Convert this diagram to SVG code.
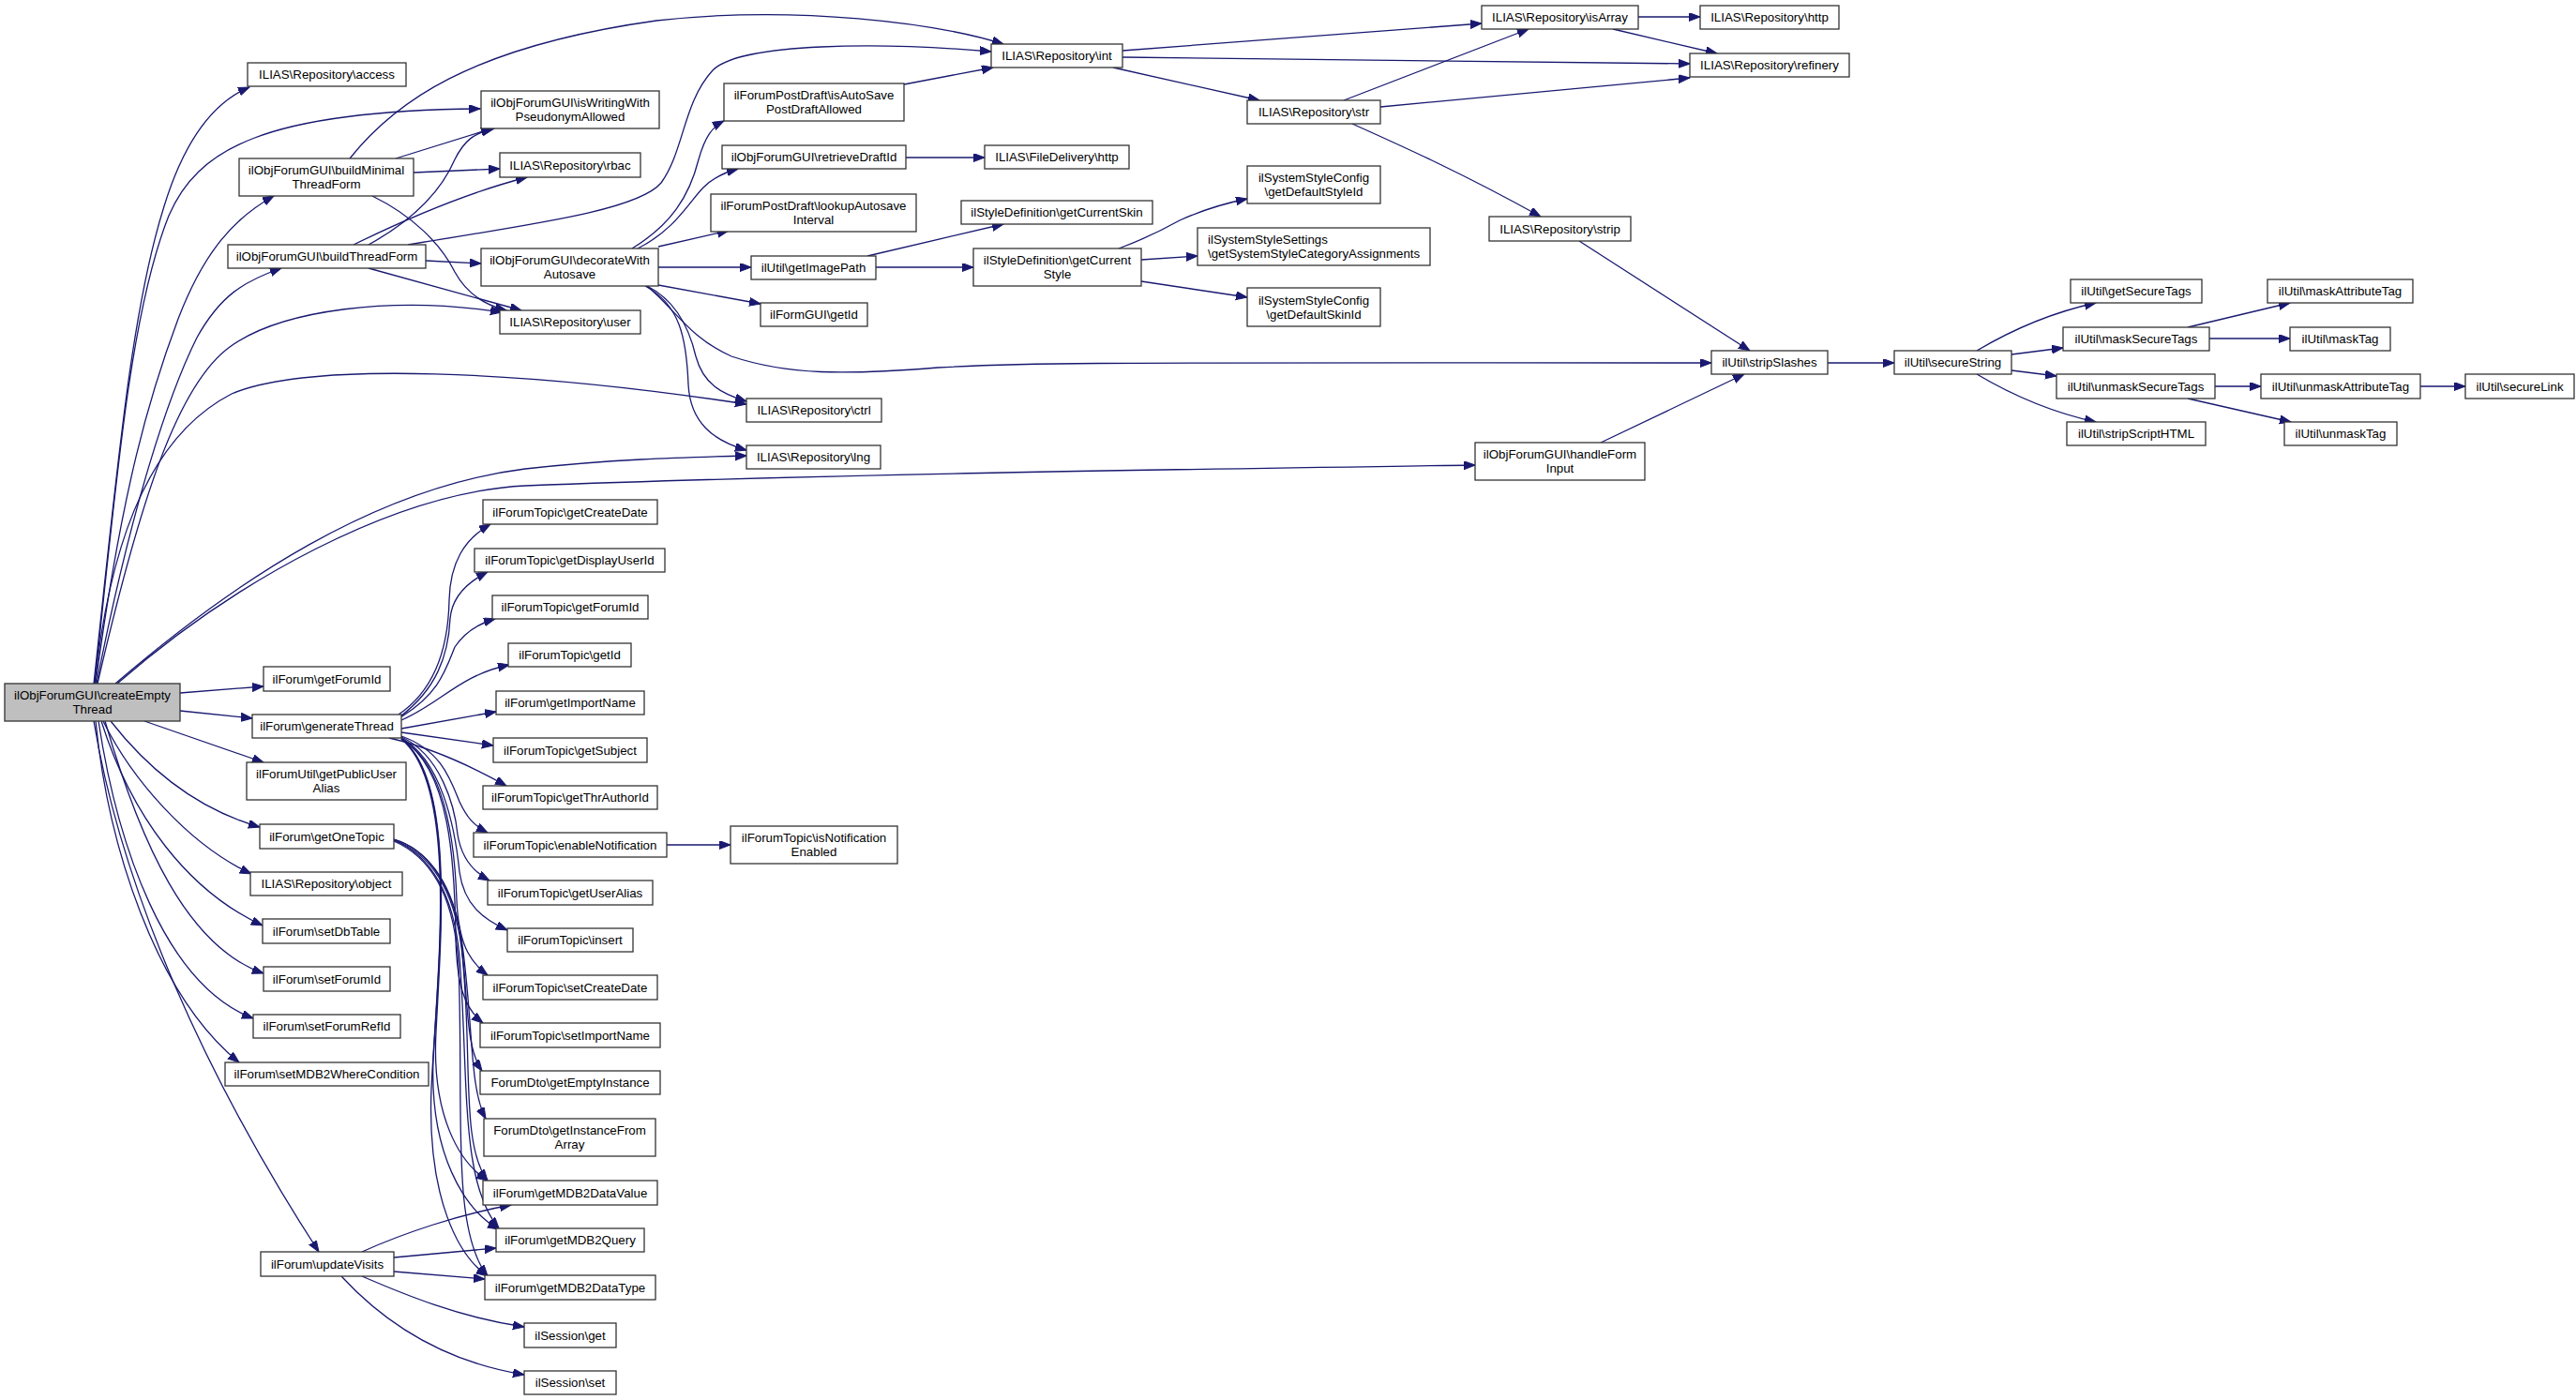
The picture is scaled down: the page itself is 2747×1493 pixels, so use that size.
<svg xmlns="http://www.w3.org/2000/svg" width="2747" height="1493" viewBox="0 0 2747 1493">
<style>
.n rect{fill:#fff;stroke:#333;stroke-width:1.3}
.n.root rect{fill:#bfbfbf}
.n text{font-family:"Liberation Sans",Arial,Helvetica,sans-serif;font-size:13.3px;fill:#000;text-anchor:middle}
.n text.l{text-anchor:start}
.e path{fill:none;stroke:#191970;stroke-width:1.3;marker-end:url(#a)}
</style>
<defs>
<marker id="a" markerWidth="13" markerHeight="10" refX="12" refY="4.5" orient="auto" markerUnits="userSpaceOnUse">
<path d="M0,0 L12,4.5 L0,9 z" fill="#191970" stroke="#191970" stroke-width="1"/>
</marker>
</defs>
<rect width="2747" height="1493" fill="#fff"/>
<g class="e" id="edges">
<!-- createEmptyThread -->
<path d="M100,729 C125,500 140,330 175,220 C195,155 225,110 266,93"/>
<path d="M101,729 C125,500 140,330 180,230 C210,160 280,118 512,116"/>
<path d="M102,729 C130,520 160,420 190,340 C215,275 245,235 292,209"/>
<path d="M103,729 C140,540 180,420 210,360 C235,315 260,300 300,286"/>
<path d="M104,729 C150,530 190,410 245,370 C300,330 420,315 535,333"/>
<path d="M101,729 C115,600 150,470 247,420 C330,385 560,395 796,431"/>
<path d="M123,729 C250,620 400,520 560,500 C650,490 720,488 796,486"/>
<path d="M125,729 C250,620 420,525 560,518 C900,505 1300,500 1573,496"/>
<path d="M192,739 L281,732"/>
<path d="M192,758 L269,766"/>
<path d="M154,769 L281,813"/>
<path d="M118,769 C150,810 200,860 277,882"/>
<path d="M110,769 C140,830 200,900 268,932"/>
<path d="M108,769 C140,870 200,950 280,987"/>
<path d="M112,769 C150,900 200,1010 281,1038"/>
<path d="M105,769 C125,900 175,1050 270,1086"/>
<path d="M102,769 C115,900 165,1060 255,1133"/>
<path d="M100,769 C130,950 220,1150 340,1335"/>
<!-- buildMinimalThreadForm -->
<path d="M373,169 C420,110 500,50 700,22 C850,5 1000,25 1070,47"/>
<path d="M422,169 L525,137"/>
<path d="M441,184 L533,180"/>
<path d="M397,209 C440,230 470,260 485,290 C497,312 515,325 540,331"/>
<!-- buildThreadForm -->
<path d="M393,261 C440,235 470,205 485,170 C495,150 505,142 527,137"/>
<path d="M377,261 C430,235 500,205 562,189"/>
<path d="M454,278 L513,281"/>
<path d="M393,286 L556,331"/>
<path d="M435,261 C560,240 680,225 705,195 C730,160 728,110 760,75 C790,45 940,45 1057,55"/>
<!-- decorateWithAutosave -->
<path d="M674,265 C715,240 735,210 745,170 C752,145 760,135 772,129"/>
<path d="M680,265 C720,245 735,215 750,200 C760,190 772,184 787,180"/>
<path d="M702,263 L777,246"/>
<path d="M702,285 L801,285"/>
<path d="M702,304 L811,324"/>
<path d="M690,305 C720,320 735,350 742,380 C750,410 770,420 796,428"/>
<path d="M688,305 C725,325 732,360 734,410 C736,450 760,470 796,480"/>
<path d="M690,305 C720,330 735,360 780,380 C840,400 900,400 1000,392 C1100,386 1200,387 1825,387"/>
<!-- generateThread -->
<path d="M425,762 C465,735 478,690 479,640 C480,600 495,575 523,559"/>
<path d="M427,764 C465,735 478,700 480,660 C482,635 500,620 520,610"/>
<path d="M427,765 C468,740 475,715 485,690 C495,675 510,665 528,660"/>
<path d="M428,768 C470,750 490,720 543,709"/>
<path d="M428,777 L529,759"/>
<path d="M428,781 L526,795"/>
<path d="M415,787 C450,795 490,810 540,838"/>
<path d="M428,785 C470,800 480,830 490,855 C498,872 505,880 520,888"/>
<path d="M428,786 C470,805 485,860 488,890 C492,915 505,930 522,939"/>
<path d="M428,787 C470,810 485,880 490,930 C495,965 515,980 541,992"/>
<path d="M428,788 C475,815 485,900 487,960 C489,1005 500,1025 520,1040"/>
<path d="M428,788 C480,820 485,920 486,1000 C487,1050 495,1075 515,1091"/>
<path d="M428,788 C485,830 470,1000 465,1100 C460,1190 490,1240 520,1259"/>
<path d="M428,788 C488,835 468,1020 462,1130 C458,1230 495,1290 532,1311"/>
<path d="M428,788 C490,840 466,1040 460,1160 C455,1280 490,1340 520,1361"/>
<!-- getOneTopic -->
<path d="M420,895 C455,905 480,940 490,990 C500,1060 495,1115 514,1142"/>
<path d="M420,895 C458,907 482,945 492,1000 C505,1090 500,1160 518,1193"/>
<path d="M420,896 C460,910 484,950 492,1010 C505,1120 490,1220 520,1259"/>
<path d="M420,896 C460,912 484,955 490,1020 C500,1150 490,1260 532,1310"/>
<path d="M420,897 C462,915 485,960 489,1030 C495,1180 480,1310 520,1361"/>
<!-- enableNotification -->
<path d="M711,901 L779,901"/>
<!-- updateVisits -->
<path d="M386,1335 C430,1315 490,1295 545,1285"/>
<path d="M420,1341 L529,1331"/>
<path d="M420,1356 L517,1364"/>
<path d="M386,1361 C430,1380 490,1405 559,1415"/>
<path d="M364,1361 C400,1400 460,1450 559,1466"/>
<!-- column 3/4 -->
<path d="M964,90 L1059,72"/>
<path d="M966,168 L1050,168"/>
<path d="M925,273 L1070,239"/>
<path d="M934,285 L1038,285"/>
<path d="M1193,265 C1220,255 1240,245 1258,235 C1280,225 1305,217 1330,212"/>
<path d="M1217,277 L1277,273"/>
<path d="M1217,300 L1330,317"/>
<!-- int -->
<path d="M1197,54 L1580,25"/>
<path d="M1197,61 L1802,68"/>
<path d="M1187,72 L1343,107"/>
<!-- str -->
<path d="M1433,107 L1630,31"/>
<path d="M1472,114 L1802,83"/>
<path d="M1442,132 C1500,158 1560,185 1643,231"/>
<!-- isArray -->
<path d="M1747,18 L1813,18"/>
<path d="M1720,31 L1831,57"/>
<!-- strip / handleFormInput / stripSlashes -->
<path d="M1684,257 L1866,374"/>
<path d="M1707,472 L1860,399"/>
<path d="M1949,387 L2020,387"/>
<!-- secureString -->
<path d="M2108,374 C2140,355 2180,335 2235,323"/>
<path d="M2145,378 L2200,371"/>
<path d="M2145,395 L2193,401"/>
<path d="M2108,399 C2140,418 2180,438 2235,450"/>
<path d="M2333,349 L2442,323"/>
<path d="M2356,361 L2442,361"/>
<path d="M2362,412 L2411,412"/>
<path d="M2333,425 L2443,450"/>
<path d="M2581,412 L2629,412"/>
</g>

<g id="n_createEmptyThread" class="n root"><rect x="5" y="729" width="187" height="40"/><text x="98.5" y="746">ilObjForumGUI\createEmpty</text><text x="98.5" y="761">Thread</text></g>

<g id="n_access" class="n"><rect x="264" y="67" width="169" height="25"/><text x="348.5" y="84">ILIAS\Repository\access</text></g>
<g id="n_buildMinimalThreadForm" class="n"><rect x="255" y="169" width="186" height="40"/><text x="348" y="186">ilObjForumGUI\buildMinimal</text><text x="348" y="201">ThreadForm</text></g>
<g id="n_buildThreadForm" class="n"><rect x="243" y="261" width="211" height="25"/><text x="348.5" y="278">ilObjForumGUI\buildThreadForm</text></g>
<g id="n_forum_getForumId" class="n"><rect x="281" y="711" width="135" height="26"/><text x="348.5" y="728.6">ilForum\getForumId</text></g>
<g id="n_generateThread" class="n"><rect x="269" y="762" width="159" height="25"/><text x="348.5" y="779">ilForum\generateThread</text></g>
<g id="n_getPublicUserAlias" class="n"><rect x="263" y="813" width="170" height="40"/><text x="348" y="830">ilForumUtil\getPublicUser</text><text x="348" y="845">Alias</text></g>
<g id="n_getOneTopic" class="n"><rect x="277" y="879" width="143" height="26"/><text x="348.5" y="896.6">ilForum\getOneTopic</text></g>
<g id="n_object" class="n"><rect x="267" y="930" width="162" height="25"/><text x="348" y="947">ILIAS\Repository\object</text></g>
<g id="n_setDbTable" class="n"><rect x="280" y="980" width="136" height="26"/><text x="348" y="997.6">ilForum\setDbTable</text></g>
<g id="n_setForumId" class="n"><rect x="281" y="1031" width="135" height="26"/><text x="348.5" y="1048.6">ilForum\setForumId</text></g>
<g id="n_setForumRefId" class="n"><rect x="270" y="1082" width="157" height="25"/><text x="348.5" y="1099">ilForum\setForumRefId</text></g>
<g id="n_setMDB2WhereCondition" class="n"><rect x="240" y="1133" width="217" height="25"/><text x="348.5" y="1150">ilForum\setMDB2WhereCondition</text></g>
<g id="n_updateVisits" class="n"><rect x="278" y="1335" width="142" height="26"/><text x="349" y="1352.6">ilForum\updateVisits</text></g>

<g id="n_isWritingWithPseudonymAllowed" class="n"><rect x="513" y="97" width="190" height="40"/><text x="608" y="114">ilObjForumGUI\isWritingWith</text><text x="608" y="129">PseudonymAllowed</text></g>
<g id="n_rbac" class="n"><rect x="533" y="163" width="150" height="26"/><text x="608" y="180.6">ILIAS\Repository\rbac</text></g>
<g id="n_decorateWithAutosave" class="n"><rect x="513" y="265" width="189" height="40"/><text x="607.5" y="282">ilObjForumGUI\decorateWith</text><text x="607.5" y="297">Autosave</text></g>
<g id="n_user" class="n"><rect x="533" y="331" width="150" height="25"/><text x="608" y="348">ILIAS\Repository\user</text></g>
<g id="n_getCreateDate" class="n"><rect x="515" y="533" width="186" height="26"/><text x="608" y="550.6">ilForumTopic\getCreateDate</text></g>
<g id="n_getDisplayUserId" class="n"><rect x="506" y="585" width="203" height="25"/><text x="607.5" y="602">ilForumTopic\getDisplayUserId</text></g>
<g id="n_topic_getForumId" class="n"><rect x="525" y="635" width="166" height="25"/><text x="608" y="652">ilForumTopic\getForumId</text></g>
<g id="n_topic_getId" class="n"><rect x="542" y="686" width="131" height="25"/><text x="607.5" y="703">ilForumTopic\getId</text></g>
<g id="n_getImportName" class="n"><rect x="529" y="737" width="158" height="25"/><text x="608" y="754">ilForum\getImportName</text></g>
<g id="n_getSubject" class="n"><rect x="526" y="787" width="164" height="26"/><text x="608" y="804.6">ilForumTopic\getSubject</text></g>
<g id="n_getThrAuthorId" class="n"><rect x="515" y="838" width="186" height="25"/><text x="608" y="855">ilForumTopic\getThrAuthorId</text></g>
<g id="n_enableNotification" class="n"><rect x="505" y="888" width="206" height="26"/><text x="608" y="905.6">ilForumTopic\enableNotification</text></g>
<g id="n_getUserAlias" class="n"><rect x="520" y="939" width="176" height="26"/><text x="608" y="956.6">ilForumTopic\getUserAlias</text></g>
<g id="n_insert" class="n"><rect x="541" y="990" width="134" height="25"/><text x="608" y="1007">ilForumTopic\insert</text></g>
<g id="n_setCreateDate" class="n"><rect x="515" y="1040" width="186" height="26"/><text x="608" y="1057.6">ilForumTopic\setCreateDate</text></g>
<g id="n_setImportName" class="n"><rect x="512" y="1091" width="192" height="26"/><text x="608" y="1108.6">ilForumTopic\setImportName</text></g>
<g id="n_getEmptyInstance" class="n"><rect x="512" y="1142" width="192" height="25"/><text x="608" y="1159">ForumDto\getEmptyInstance</text></g>
<g id="n_getInstanceFromArray" class="n"><rect x="516" y="1193" width="183" height="40"/><text x="607.5" y="1210">ForumDto\getInstanceFrom</text><text x="607.5" y="1225">Array</text></g>
<g id="n_getMDB2DataValue" class="n"><rect x="515" y="1259" width="186" height="26"/><text x="608" y="1276.6">ilForum\getMDB2DataValue</text></g>
<g id="n_getMDB2Query" class="n"><rect x="529" y="1310" width="158" height="25"/><text x="608" y="1327">ilForum\getMDB2Query</text></g>
<g id="n_getMDB2DataType" class="n"><rect x="517" y="1360" width="182" height="26"/><text x="608" y="1377.6">ilForum\getMDB2DataType</text></g>
<g id="n_session_get" class="n"><rect x="559" y="1411" width="98" height="26"/><text x="608" y="1428.6">ilSession\get</text></g>
<g id="n_session_set" class="n"><rect x="559" y="1462" width="98" height="25"/><text x="608" y="1479">ilSession\set</text></g>

<g id="n_isAutoSavePostDraftAllowed" class="n"><rect x="772" y="89" width="192" height="40"/><text x="868" y="106">ilForumPostDraft\isAutoSave</text><text x="868" y="121">PostDraftAllowed</text></g>
<g id="n_retrieveDraftId" class="n"><rect x="770" y="155" width="196" height="25"/><text x="868" y="172">ilObjForumGUI\retrieveDraftId</text></g>
<g id="n_lookupAutosaveInterval" class="n"><rect x="758" y="207" width="219" height="40"/><text x="867.5" y="224">ilForumPostDraft\lookupAutosave</text><text x="867.5" y="239">Interval</text></g>
<g id="n_getImagePath" class="n"><rect x="801" y="273" width="133" height="25"/><text x="867.5" y="290">ilUtil\getImagePath</text></g>
<g id="n_formgui_getId" class="n"><rect x="811" y="323" width="114" height="25"/><text x="868" y="340">ilFormGUI\getId</text></g>
<g id="n_ctrl" class="n"><rect x="796" y="425" width="144" height="25"/><text x="868" y="442">ILIAS\Repository\ctrl</text></g>
<g id="n_lng" class="n"><rect x="796" y="475" width="143" height="25"/><text x="867.5" y="492">ILIAS\Repository\lng</text></g>
<g id="n_isNotificationEnabled" class="n"><rect x="779" y="881" width="178" height="40"/><text x="868" y="898">ilForumTopic\isNotification</text><text x="868" y="913">Enabled</text></g>

<g id="n_int" class="n"><rect x="1057" y="47" width="140" height="25"/><text x="1127" y="64">ILIAS\Repository\int</text></g>
<g id="n_filedelivery_http" class="n"><rect x="1050" y="155" width="154" height="25"/><text x="1127" y="172">ILIAS\FileDelivery\http</text></g>
<g id="n_getCurrentSkin" class="n"><rect x="1025" y="214" width="204" height="25"/><text x="1127" y="231">ilStyleDefinition\getCurrentSkin</text></g>
<g id="n_getCurrentStyle" class="n"><rect x="1038" y="265" width="179" height="40"/><text x="1127.5" y="282">ilStyleDefinition\getCurrent</text><text x="1127.5" y="297">Style</text></g>

<g id="n_str" class="n"><rect x="1330" y="107" width="142" height="25"/><text x="1401" y="124">ILIAS\Repository\str</text></g>
<g id="n_getDefaultStyleId" class="n"><rect x="1330" y="177" width="142" height="40"/><text x="1401" y="194">ilSystemStyleConfig</text><text x="1401" y="209">\getDefaultStyleId</text></g>
<g id="n_getSystemStyleCategoryAssignments" class="n"><rect x="1277" y="243" width="248" height="40"/><text class="l" x="1288" y="260">ilSystemStyleSettings</text><text class="l" x="1288" y="275">\getSystemStyleCategoryAssignments</text></g>
<g id="n_getDefaultSkinId" class="n"><rect x="1330" y="307" width="142" height="41"/><text x="1401" y="324.5">ilSystemStyleConfig</text><text x="1401" y="339.5">\getDefaultSkinId</text></g>

<g id="n_isArray" class="n"><rect x="1580" y="6" width="167" height="25"/><text x="1663.5" y="23">ILIAS\Repository\isArray</text></g>
<g id="n_strip" class="n"><rect x="1588" y="231" width="151" height="26"/><text x="1663.5" y="248.6">ILIAS\Repository\strip</text></g>
<g id="n_handleFormInput" class="n"><rect x="1573" y="472" width="181" height="40"/><text x="1663.5" y="489">ilObjForumGUI\handleForm</text><text x="1663.5" y="504">Input</text></g>

<g id="n_repo_http" class="n"><rect x="1813" y="6" width="148" height="25"/><text x="1887" y="23">ILIAS\Repository\http</text></g>
<g id="n_refinery" class="n"><rect x="1802" y="57" width="170" height="25"/><text x="1887" y="74">ILIAS\Repository\refinery</text></g>
<g id="n_stripSlashes" class="n"><rect x="1825" y="374" width="124" height="25"/><text x="1887" y="391">ilUtil\stripSlashes</text></g>

<g id="n_secureString" class="n"><rect x="2020" y="374" width="125" height="25"/><text x="2082.5" y="391">ilUtil\secureString</text></g>

<g id="n_getSecureTags" class="n"><rect x="2208" y="298" width="140" height="25"/><text x="2278" y="315">ilUtil\getSecureTags</text></g>
<g id="n_maskSecureTags" class="n"><rect x="2200" y="349" width="156" height="25"/><text x="2278" y="366">ilUtil\maskSecureTags</text></g>
<g id="n_unmaskSecureTags" class="n"><rect x="2193" y="399" width="169" height="26"/><text x="2277.5" y="416.6">ilUtil\unmaskSecureTags</text></g>
<g id="n_stripScriptHTML" class="n"><rect x="2204" y="450" width="148" height="25"/><text x="2278" y="467">ilUtil\stripScriptHTML</text></g>

<g id="n_maskAttributeTag" class="n"><rect x="2418" y="298" width="155" height="25"/><text x="2495.5" y="315">ilUtil\maskAttributeTag</text></g>
<g id="n_maskTag" class="n"><rect x="2442" y="349" width="107" height="25"/><text x="2495.5" y="366">ilUtil\maskTag</text></g>
<g id="n_unmaskAttributeTag" class="n"><rect x="2411" y="399" width="170" height="26"/><text x="2496" y="416.6">ilUtil\unmaskAttributeTag</text></g>
<g id="n_unmaskTag" class="n"><rect x="2436" y="450" width="120" height="25"/><text x="2496" y="467">ilUtil\unmaskTag</text></g>

<g id="n_secureLink" class="n"><rect x="2629" y="399" width="116" height="26"/><text x="2687" y="416.6">ilUtil\secureLink</text></g>
</svg>
